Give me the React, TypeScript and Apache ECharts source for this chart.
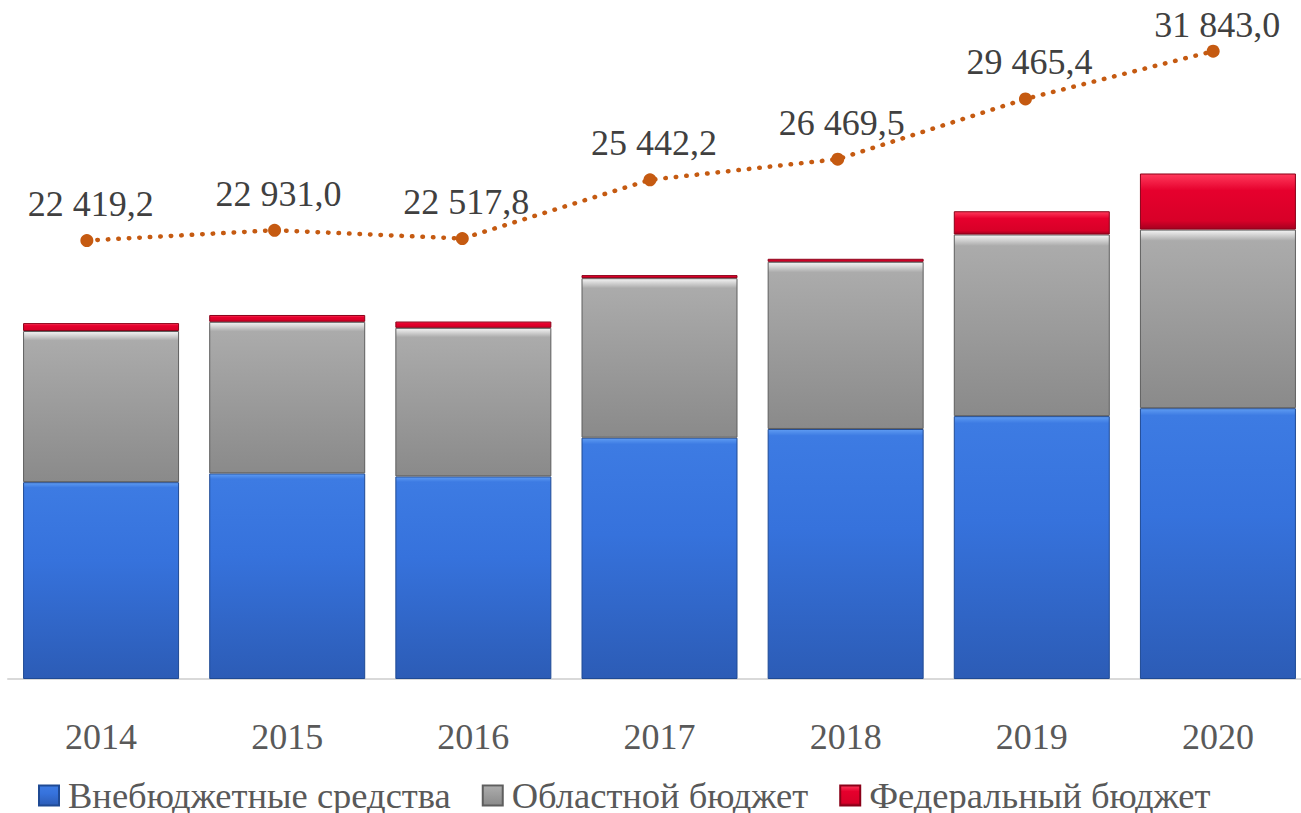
import React, { useEffect, useRef } from "react";
import * as echarts from "echarts";

const years = ["2014", "2015", "2016", "2017", "2018", "2019", "2020"];
const offBudget = [12400, 12950, 12760, 15200, 15750, 16560, 17060];
const regional = [9520, 9550, 9360, 10050, 10530, 11440, 11250];
const federal = [499, 431, 398, 192, 190, 1465, 3533];
const totals = [22419.2, 22931.0, 22517.8, 25442.2, 26469.5, 29465.4, 31843.0];

const seriesNames = ["Внебюджетные средства", "Областной бюджет", "Федеральный бюджет"];

const FONT = "Liberation Serif";
const SHIFT = 20;

function grad(stops: [number, string][]) {
  return new echarts.graphic.LinearGradient(
    0,
    0,
    0,
    1,
    stops.map(([offset, color]) => ({ offset, color }))
  );
}

const formatNum = (v: number) => {
  const s = v.toFixed(1).replace(".", ",");
  const [i, d] = s.split(",");
  return i.replace(/\B(?=(\d{3})+(?!\d))/g, " ") + "," + d;
};

export default function App() {
  const ref = useRef<HTMLDivElement>(null);
  useEffect(() => {
    if (!ref.current) return;
    const chart = echarts.init(ref.current, null, { renderer: "svg" });
    const blue = grad([
      [0, "#5f9cf2"],
      [0.025, "#3d7be3"],
      [0.4, "#3672dc"],
      [1, "#2c5cb6"],
    ]);
    const grey = grad([
      [0, "#f4f4f4"],
      [0.03, "#d0d0d0"],
      [0.06, "#ababab"],
      [1, "#8a8a8a"],
    ]);
    const red = grad([
      [0, "#ff3a5c"],
      [0.3, "#e6002d"],
      [0.85, "#d80028"],
      [1, "#a50020"],
    ]);
    const lineData = totals.map((v, i) =>
      i === totals.length - 1
        ? { value: v, label: { offset: [4, 10] } }
        : { value: v }
    );
    chart.setOption({
      animation: false,
      textStyle: { fontFamily: FONT },
      grid: [
        { left: 8 + SHIFT, top: 44, width: 1303, height: 635 },
        { left: -7 + SHIFT, top: 44, width: 1314, height: 635 },
      ],
      legend: {
        data: seriesNames,
        left: 38 + SHIFT,
        top: 777,
        padding: 0,
        itemWidth: 20,
        itemHeight: 20,
        itemGap: 31,
        icon: "rect",
        textStyle: {
          fontFamily: FONT,
          fontSize: 36.5,
          color: "#595959",
          padding: [0, 0, 0, 4],
        },
      },
      xAxis: [
        {
          type: "category",
          data: years,
          gridIndex: 0,
          axisLine: { show: true, lineStyle: { color: "#d9d9d9", width: 2 } },
          axisTick: { show: false },
          axisLabel: {
            margin: 40,
            fontFamily: FONT,
            fontSize: 36,
            color: "#595959",
          },
        },
        {
          type: "category",
          data: years,
          gridIndex: 1,
          show: false,
        },
      ],
      yAxis: [
        { type: "value", gridIndex: 0, min: 0, max: 40000, show: false },
        { type: "value", gridIndex: 1, min: 600, max: 32200, show: false },
      ],
      series: [
        {
          name: seriesNames[0],
          type: "bar",
          stack: "t",
          data: offBudget,
          barWidth: 156,
          itemStyle: { color: blue, borderColor: "#1f4a94", borderWidth: 1 },
        },
        {
          name: seriesNames[1],
          type: "bar",
          stack: "t",
          data: regional,
          barWidth: 156,
          itemStyle: { color: grey, borderColor: "#5e5e5e", borderWidth: 1 },
        },
        {
          name: seriesNames[2],
          type: "bar",
          stack: "t",
          data: federal,
          barWidth: 156,
          itemStyle: { color: red, borderColor: "#8a0018", borderWidth: 1 },
        },
        {
          name: "Итого",
          type: "line",
          xAxisIndex: 1,
          yAxisIndex: 1,
          data: lineData,
          symbol: "circle",
          symbolSize: 13,
          itemStyle: { color: "#c55a11" },
          lineStyle: {
            color: "#c55a11",
            width: 4.5,
            type: [0.5, 10],
            cap: "round",
          },
          label: {
            show: true,
            position: "top",
            distance: 12,
            offset: [4, 0],
            formatter: (p: any) => formatNum(p.value),
            fontFamily: FONT,
            fontSize: 36,
            color: "#404040",
          },
          z: 5,
        },
      ],
    });
    return () => chart.dispose();
  }, []);
  return (
    <div
      style={{
        position: "absolute",
        left: 0,
        top: 0,
        width: 1301,
        height: 813,
        overflow: "hidden",
        background: "#fff",
      }}
    >
      <div
        ref={ref}
        style={{ position: "absolute", left: -SHIFT, top: 0, width: 1350, height: 813 }}
      />
    </div>
  );
}
